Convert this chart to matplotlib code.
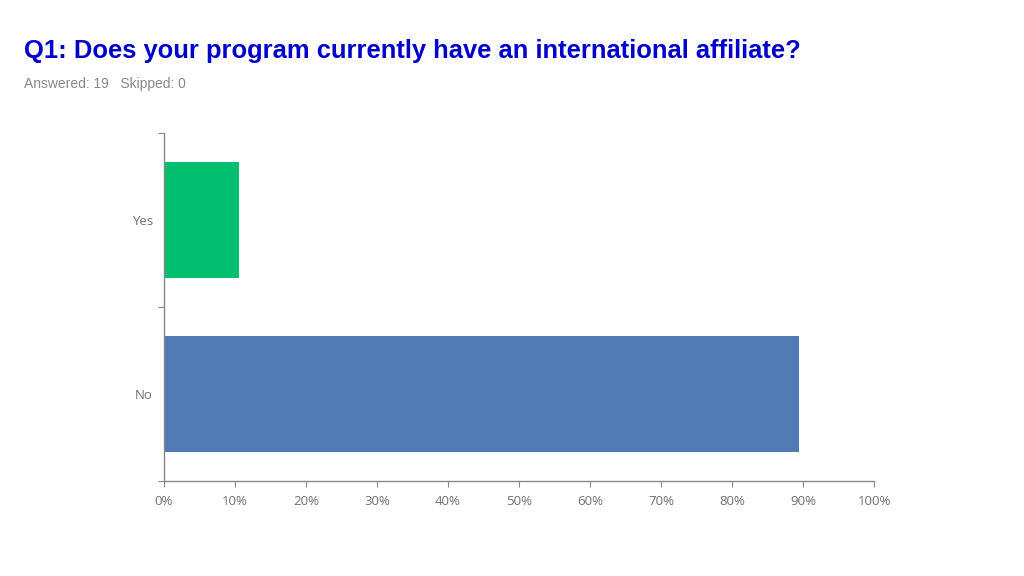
import matplotlib
matplotlib.use("Agg")
import matplotlib.pyplot as plt
from matplotlib.ticker import FuncFormatter

categories = ["No", "Yes"]
values = [89.47, 10.53]
colors = ["#507BB5", "#00BF6F"]
xticks = [0, 10, 20, 30, 40, 50, 60, 70, 80, 90, 100]

title = "Q1: Does your program currently have an international affiliate?"
subtitle = "Answered: 19   Skipped: 0"

fig = plt.figure(figsize=(10.24, 5.76), dpi=100)
fig.patch.set_facecolor("white")
ax = fig.add_axes([164/1024, 1-481/576, (874-164)/1024, (481-133)/576])

pos = list(range(len(categories)))
ax.barh(pos, values, height=0.667, color=colors)
ax.set_xlim(0, 100)
ax.set_ylim(-0.5, 1.5)
ax.set_xticks(xticks)
ax.xaxis.set_major_formatter(FuncFormatter(lambda v, p: f"{v:.0f}%"))
ax.set_yticks([-0.5, 0.5, 1.5])
ax.set_yticklabels([])
ax.set_yticks(pos, minor=True)
ax.set_yticklabels(categories, minor=True)
ax.tick_params(axis="y", which="minor", length=0, pad=8)
ax.tick_params(axis="y", which="major", length=4, color="#888888", direction="out")
ax.tick_params(axis="x", length=4, color="#888888", direction="out", pad=6)
for lab in ax.get_xticklabels() + ax.get_yticklabels(minor=True):
    lab.set_fontfamily("Open Sans")
    lab.set_fontsize(9.5)
    lab.set_color("#707070")
for s in ["top", "right"]:
    ax.spines[s].set_visible(False)
for s in ["left", "bottom"]:
    ax.spines[s].set_color("#888888")
    ax.spines[s].set_linewidth(1)

fig.text(24/1024, 1-58/576, title, fontsize=18.4, fontweight="bold", color="#0000CC",
         fontfamily="Liberation Sans", ha="left", va="baseline")
fig.text(24/1024, 1-88/576, subtitle, fontsize=10, color="#888888",
         fontfamily="Liberation Sans", ha="left", va="baseline")

fig.savefig("out.png", dpi=100)
